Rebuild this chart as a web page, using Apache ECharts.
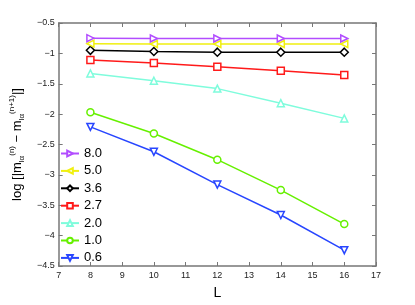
<!DOCTYPE html>
<html><head><meta charset="utf-8">
<script src="https://cdn.jsdelivr.net/npm/echarts@6/dist/echarts.min.js"></script>
<style>html,body{margin:0;padding:0;background:#fff}#c{width:415px;height:305px}</style>
</head><body><div id="c"></div>
<script>
const L = [8, 10, 12, 14, 16];
const names = ['8.0', '5.0', '3.6', '2.7', '2.0', '1.0', '0.6'];
const v80 = [-0.75, -0.755, -0.755, -0.755, -0.755];
const v50 = [-0.84, -0.845, -0.845, -0.845, -0.845];
const v36 = [-0.95, -0.97, -0.98, -0.98, -0.98];
const v27 = [-1.11, -1.16, -1.22, -1.285, -1.355];
const v20 = [-1.33, -1.45, -1.58, -1.82, -2.07];
const v10 = [-1.97, -2.32, -2.75, -3.25, -3.81];
const v06 = [-2.21, -2.62, -3.16, -3.66, -4.24];
const xTicks = [7, 8, 9, 10, 11, 12, 13, 14, 15, 16, 17];
const yTicks = [-4.5, -4, -3.5, -3, -2.5, -2, -1.5, -1, -0.5];

const colors = ['#b24dff', '#f0f010', '#000000', '#ff1a1a', '#7ffcdc', '#66f000', '#2846ff'];
const symbols = ['triangle', 'triangle', 'diamond', 'rect', 'triangle', 'circle', 'triangle'];
const rots = [-90, 90, 0, 0, 0, 0, 180];
const values = [v80, v50, v36, v27, v20, v10, v06];

const font = 'Liberation Sans, Arial, sans-serif';
const fmt = v => String(v).replace('-', '\u2212');

const series = names.map((n, i) => ({
  name: n, type: 'line',
  data: L.map((x, j) => [x, values[i][j]]),
  symbol: symbols[i], symbolRotate: rots[i], symbolSize: i === 2 ? 8 : 7,
  lineStyle: {color: colors[i], width: 1.5},
  itemStyle: {color: '#fff', borderColor: colors[i], borderWidth: 1.5},
  emphasis: {disabled: true},
  animation: false, z: 10 - i
}));

const axisLine = {show: true, lineStyle: {color: '#777', width: 1.5}};
const chart = echarts.init(document.getElementById('c'));
chart.setOption({
  animation: false,
  grid: {left: 54, right: 39, top: 23, bottom: 34},
  legend: {
    orient: 'vertical', left: 60, top: 147, padding: 0, itemGap: 4.4, itemWidth: 18, itemHeight: 7,
    data: names, textStyle: {fontSize: 13, lineHeight: 12, fontFamily: font, color: '#000'}
  },
  xAxis: [{
    type: 'value', min: 7, max: 17, interval: 1,
    name: 'L', nameLocation: 'middle', nameGap: 20,
    nameTextStyle: {fontSize: 14, fontFamily: font, color: '#000'},
    axisLine: axisLine, axisTick: {inside: true, length: 4, lineStyle: {color: '#777'}},
    axisLabel: {fontSize: 9, fontFamily: font, color: '#222', margin: 5, formatter: fmt},
    splitLine: {show: false}
  }, {
    type: 'value', min: 7, max: 17, interval: 1, position: 'top',
    axisLine: axisLine, axisTick: {inside: true, length: 4, lineStyle: {color: '#777'}},
    axisLabel: {show: false}, splitLine: {show: false}
  }],
  yAxis: [{
    type: 'value', min: -4.5, max: -0.5, interval: 0.5,
    name: 'log [|m{sb|lα}{sp|(n)} − m{sb|lα}{sp|(n+1)}|]',
    nameLocation: 'middle', nameGap: 30,
    nameTextStyle: {
      fontSize: 13, fontFamily: font, color: '#000', lineHeight: 18,
      rich: {
        sb: {fontSize: 8, fontFamily: font, verticalAlign: 'bottom', lineHeight: 18, color: '#000'},
        sp: {fontSize: 8, fontFamily: font, verticalAlign: 'top', lineHeight: 18, color: '#000'}
      }
    },
    axisLine: axisLine, axisTick: {inside: true, length: 4, lineStyle: {color: '#777'}},
    axisLabel: {fontSize: 9, fontFamily: font, color: '#222', margin: 4, formatter: fmt},
    splitLine: {show: false}
  }, {
    type: 'value', min: -4.5, max: -0.5, interval: 0.5, position: 'right',
    axisLine: axisLine, axisTick: {inside: true, length: 4, lineStyle: {color: '#777'}},
    axisLabel: {show: false}, splitLine: {show: false}
  }],
  series: series
});
</script></body></html>
